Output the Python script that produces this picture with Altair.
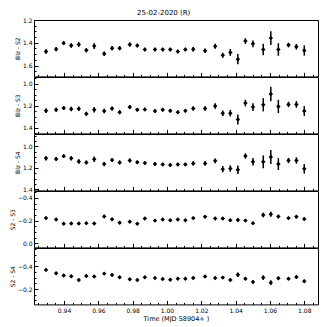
import altair as alt
import pandas as pd

FONT = "DejaVu Sans"

time = [0.9295, 0.9354, 0.9398, 0.9442, 0.9486, 0.9530, 0.9576, 0.9634,
        0.9680, 0.9724, 0.9783, 0.9827, 0.9871, 0.9930, 0.9975, 1.0019,
        1.0063, 1.0107, 1.0153, 1.0222, 1.0281, 1.0325, 1.0369, 1.0413,
        1.0457, 1.0501, 1.0561, 1.0605, 1.0649, 1.0708, 1.0754, 1.0800]

blz_s2 = [1.476, 1.456, 1.403, 1.424, 1.415, 1.465, 1.429, 1.497,
          1.447, 1.447, 1.415, 1.424, 1.459, 1.459, 1.459, 1.459,
          1.476, 1.459, 1.456, 1.470, 1.430, 1.510, 1.485, 1.544,
          1.385, 1.409, 1.459, 1.359, 1.459, 1.420, 1.435, 1.468]
blz_s2_err = [0.020, 0.018, 0.017, 0.020, 0.020, 0.018, 0.025, 0.020,
              0.018, 0.018, 0.018, 0.015, 0.015, 0.015, 0.015, 0.015,
              0.015, 0.015, 0.020, 0.020, 0.022, 0.022, 0.030, 0.045,
              0.025, 0.030, 0.050, 0.060, 0.055, 0.020, 0.025, 0.045]

blz_s3 = [1.245, 1.236, 1.221, 1.230, 1.227, 1.273, 1.236, 1.248,
          1.224, 1.258, 1.212, 1.236, 1.233, 1.248, 1.236, 1.245,
          1.258, 1.245, 1.224, 1.224, 1.203, 1.267, 1.267, 1.324,
          1.176, 1.212, 1.191, 1.094, 1.206, 1.188, 1.188, 1.248]
blz_s3_err = [0.020, 0.018, 0.017, 0.020, 0.020, 0.018, 0.025, 0.020,
              0.018, 0.018, 0.018, 0.015, 0.015, 0.015, 0.015, 0.015,
              0.015, 0.015, 0.020, 0.020, 0.025, 0.025, 0.030, 0.045,
              0.030, 0.035, 0.060, 0.065, 0.060, 0.025, 0.030, 0.045]

blz_s4 = [1.111, 1.117, 1.091, 1.111, 1.141, 1.150, 1.120, 1.165,
          1.126, 1.150, 1.132, 1.147, 1.156, 1.165, 1.168, 1.173,
          1.168, 1.168, 1.159, 1.159, 1.135, 1.212, 1.206, 1.218,
          1.090, 1.144, 1.144, 1.100, 1.165, 1.132, 1.132, 1.209]
blz_s4_err = [0.020, 0.018, 0.017, 0.020, 0.020, 0.018, 0.025, 0.020,
              0.018, 0.018, 0.018, 0.015, 0.015, 0.015, 0.015, 0.015,
              0.015, 0.015, 0.020, 0.020, 0.022, 0.030, 0.030, 0.040,
              0.025, 0.035, 0.060, 0.065, 0.055, 0.025, 0.030, 0.045]

s2_s3 = [-0.222, -0.209, -0.172, -0.175, -0.175, -0.178, -0.175, -0.237,
         -0.212, -0.182, -0.191, -0.172, -0.218, -0.200, -0.209, -0.203,
         -0.209, -0.203, -0.222, -0.234, -0.218, -0.218, -0.203, -0.206,
         -0.200, -0.178, -0.249, -0.255, -0.237, -0.222, -0.234, -0.215]
s2_s3_err = [0.012, 0.011, 0.011, 0.012, 0.012, 0.011, 0.013, 0.015,
             0.012, 0.011, 0.011, 0.010, 0.010, 0.010, 0.010, 0.010,
             0.010, 0.010, 0.012, 0.012, 0.012, 0.012, 0.012, 0.013,
             0.012, 0.013, 0.020, 0.022, 0.015, 0.011, 0.012, 0.014]

s2_s4 = [-0.368, -0.338, -0.318, -0.312, -0.279, -0.315, -0.309, -0.335,
         -0.324, -0.303, -0.285, -0.279, -0.303, -0.297, -0.288, -0.282,
         -0.291, -0.291, -0.297, -0.309, -0.297, -0.300, -0.279, -0.326,
         -0.291, -0.262, -0.300, -0.256, -0.294, -0.291, -0.306, -0.268]
s2_s4_err = [0.012, 0.011, 0.011, 0.012, 0.012, 0.011, 0.013, 0.013,
             0.012, 0.011, 0.011, 0.010, 0.010, 0.010, 0.010, 0.010,
             0.010, 0.010, 0.012, 0.012, 0.012, 0.012, 0.012, 0.020,
             0.013, 0.014, 0.020, 0.020, 0.015, 0.011, 0.013, 0.014]

x_domain = [0.9225, 1.088]
x_major = [0.94, 0.96, 0.98, 1.00, 1.02, 1.04, 1.06, 1.08]
x_minor = [round(0.925 + 0.005 * i, 3) for i in range(33)]

panels = [
    ("Blz - S2", blz_s2, blz_s2_err, [1.2, 1.695], [1.2, 1.4, 1.6]),
    ("Blz - S3", blz_s3, blz_s3_err, [0.94, 1.45], [1.0, 1.2, 1.4]),
    ("Blz - S4", blz_s4, blz_s4_err, [0.885, 1.41], [1.0, 1.2, 1.4]),
    ("S2 - S3", s2_s3, s2_s3_err, [-0.46, 0.035], [-0.4, -0.2, 0.0]),
    ("S2 - S4", s2_s4, s2_s4_err, [-0.56, -0.065], [-0.4, -0.2]),
]

W, H = 284, 56.4


def make_panel(label, vals, errs, ydom, ymaj, bottom):
    df = pd.DataFrame({
        "t": time,
        "v": vals,
        "lo": [v - e for v, e in zip(vals, errs)],
        "hi": [v + e for v, e in zip(vals, errs)],
    })
    ymin = [round(round(v / 0.05) * 0.05, 3)
            for v in [ydom[0] + 0.05 * i for i in range(-2, 14)]]
    ymin = sorted(set(v for v in ymin if ydom[0] <= v <= ydom[1]))
    xs = alt.Scale(domain=x_domain, nice=False, zero=False)
    ys = alt.Scale(domain=ydom, reverse=True, nice=False, zero=False)
    base = alt.Chart(df)

    x_major_axis = alt.Axis(values=x_major, format=".2f", labels=bottom,
                            orient="bottom", offset=-4, tickSize=4,
                            domain=False, grid=False, labelPadding=3,
                            titlePadding=2, labelFontSize=6, titleFontSize=6.5,
                            labelFont=FONT, titleFont=FONT, titleFontWeight="normal",
                            tickColor="black", labelColor="black", titleColor="black")
    x_minor_axis = alt.Axis(values=x_minor, labels=False, orient="bottom",
                            offset=-2, tickSize=2, domain=False, grid=False,
                            tickColor="black")
    y_major_axis = alt.Axis(values=ymaj, format=".1f", orient="left", offset=-4,
                            tickSize=4, domain=False, grid=False, labelPadding=2,
                            titlePadding=2, labelFontSize=6, titleFontSize=6,
                            labelFont=FONT, titleFont=FONT, titleFontWeight="normal",
                            tickColor="black", labelColor="black", titleColor="black")
    y_minor_axis = alt.Axis(values=ymin, labels=False, orient="left", offset=-2,
                            tickSize=2, domain=False, grid=False, tickColor="black")

    if bottom:
        xenc = alt.X("t:Q", scale=xs, axis=x_major_axis, title="Time (MJD 58904+ )")
    else:
        xenc = alt.X("t:Q", scale=xs, axis=x_major_axis, title=None)

    err = base.mark_rule(color="black", strokeWidth=1.5).encode(
        x=alt.X("t:Q", scale=xs, axis=None),
        y=alt.Y("lo:Q", scale=ys, axis=None),
        y2="hi:Q",
    )
    pts = base.mark_point(shape="diamond", filled=True, size=20, color="black",
                          opacity=1).encode(
        x=xenc,
        y=alt.Y("v:Q", scale=ys, axis=y_major_axis, title=label),
    )
    minor = base.mark_point(opacity=0, size=1).encode(
        x=alt.X("t:Q", scale=xs, axis=x_minor_axis, title=None),
        y=alt.Y("v:Q", scale=ys, axis=y_minor_axis, title=None),
    )
    return alt.layer(err, pts, minor).resolve_axis(
        x="independent", y="independent").properties(width=W, height=H)


charts = [make_panel(lab, v, e, d, m, i == len(panels) - 1)
          for i, (lab, v, e, d, m) in enumerate(panels)]

chart = alt.vconcat(*charts, spacing=0, bounds="flush").properties(
    title=alt.TitleParams("25-02-2020  (R)", fontSize=7, font=FONT,
                          fontWeight="normal", offset=1, anchor="middle",
                          color="black"),
    padding={"left": 0, "top": 0, "right": 0, "bottom": 0},
).configure_view(stroke="black", strokeWidth=1)

chart.save("out.html", embed_options={"renderer": "svg", "actions": False})
